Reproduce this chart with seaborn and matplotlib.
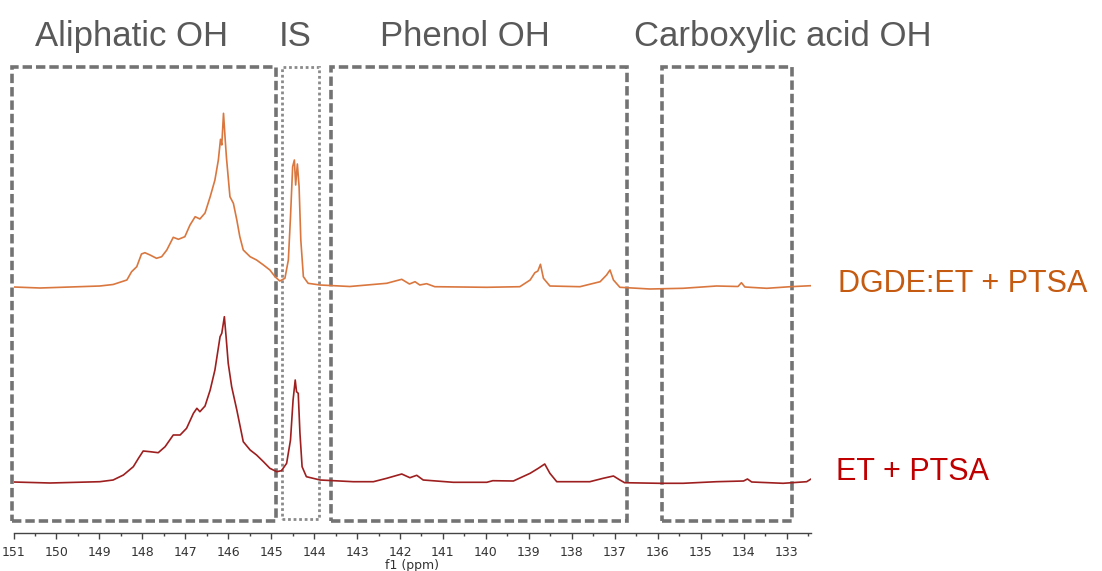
import matplotlib
matplotlib.use("Agg")
import matplotlib.pyplot as plt
from matplotlib.patches import Rectangle
from matplotlib.ticker import MultipleLocator
import seaborn as sns
import pandas as pd

# ---- data (chemical shift in ppm, intensity in arbitrary units) ----
ppm_top = [151.00, 150.38, 149.68, 148.99, 148.68, 148.36, 148.25, 148.13, 148.02, 147.94,
           147.82, 147.67, 147.55, 147.43, 147.28, 147.16, 147.01, 146.89, 146.77, 146.66,
           146.54, 146.42, 146.31, 146.23, 146.18, 146.15, 146.11, 146.07, 146.04, 145.96,
           145.88, 145.80, 145.73, 145.65, 145.49, 145.34, 145.18, 145.03, 144.91, 144.80,
           144.68, 144.60, 144.55, 144.50, 144.46, 144.43, 144.39, 144.35, 144.31, 144.25,
           144.14, 143.86, 143.17, 142.31, 141.96, 141.78, 141.65, 141.54, 141.38, 141.19,
           139.98, 139.21, 138.97, 138.86, 138.79, 138.73, 138.66, 138.51, 137.81, 137.34,
           137.19, 137.11, 137.03, 136.88, 136.18, 135.41, 134.63, 134.13, 134.05, 133.97,
           133.46, 132.91, 132.43]
int_top = [0, -1, 0, 1, 2.5, 7, 15.3, 20.3, 33, 34.3,
           32, 28.7, 30.3, 37, 49.7, 47.7, 50.3, 62, 70.3, 68,
           74, 90.3, 107, 127, 147.7, 142, 173.7, 147, 128.7, 90.3,
           83.7, 67, 50.3, 37, 30.3, 27, 22, 17, 10.3, 6,
           8.7, 27, 70.3, 120.3, 127, 102, 123, 100.3, 47, 10.3,
           3.7, 2, 0.5, 3.7, 7.7, 3, 5.3, 2, 3.3, 0.3,
           -0.3, 0.3, 7, 14.3, 16, 22.7, 8.7, 1, 0.3, 5.3,
           12, 17, 7, -0.3, -2, -1.3, 1, 0.5, 4.3, 0,
           -1.3, 0.3, 1.3]

ppm_bot = [151.00, 150.15, 148.99, 148.68, 148.44, 148.21, 148.09, 147.98, 147.82, 147.63,
           147.47, 147.28, 147.12, 146.97, 146.81, 146.73, 146.66, 146.54, 146.42, 146.31,
           146.19, 146.15, 146.09, 146.05, 146.00, 145.92, 145.80, 145.65, 145.49, 145.34,
           145.18, 145.03, 144.87, 144.76, 144.64, 144.55, 144.49, 144.44, 144.41, 144.37,
           144.33, 144.28, 144.18, 143.86, 143.09, 142.62, 142.31, 141.96, 141.77, 141.61,
           141.46, 140.76, 139.98, 139.84, 139.36, 138.97, 138.78, 138.63, 138.51, 138.35,
           137.58, 137.27, 137.03, 136.88, 136.77, 135.96, 135.41, 134.63, 134.00, 133.91,
           133.81, 133.08, 132.53, 132.43]
int_bot = [1, 0, 1.3, 3, 8, 16.3, 24.7, 32, 31.3, 30.3,
           36.3, 48, 48, 54.7, 69.7, 74.7, 71.3, 77, 93, 113,
           146.3, 149.7, 166.3, 146.3, 119.7, 96.3, 73, 41.3, 33, 28,
           21.3, 14.7, 11.3, 12.3, 19.7, 43, 83, 103, 91.3, 89.7,
           49.7, 16.3, 6.3, 3, 1.3, 1.3, 4.7, 9, 5.3, 7.7,
           3, 0.7, 0.7, 2.3, 2, 9.7, 14.7, 19, 9.7, 1.3,
           1.3, 4.7, 7, 3, 0.3, -0.3, -0.3, 1.3, 2, 4,
           1, -0.3, 1.3, 4]

sample_names = ["DGDE:ET + PTSA", "ET + PTSA"]
offsets = [246, 50]

# region boxes (ppm limits)
regions = ["Aliphatic OH", "IS", "Phenol OH", "Carboxylic acid OH"]
region_lo = [144.89, 143.88, 136.71, 132.87]
region_hi = [151.03, 144.75, 143.61, 135.90]
region_style = ["dash", "dot", "dash", "dash"]

xticks = list(range(133, 152))

# ---- styling ----
sns.set_theme(style="white")
plt.rcParams["font.family"] = ["DejaVu Sans"]

W, H = 1102, 571
fig = plt.figure(figsize=(W / 100, H / 100), dpi=100)
ax = fig.add_axes([13.5 / W, 1 - 533 / H, (811 - 13.5) / W, (533 - 60) / H])

line_colors = ["#D9773F", "#9E1F1F"]
label_colors = ["#C55A11", "#C00000"]

df_top = pd.DataFrame({"ppm": ppm_top, "y": [v + offsets[0] for v in int_top]})
df_bot = pd.DataFrame({"ppm": ppm_bot, "y": [v + offsets[1] for v in int_bot]})
sns.lineplot(data=df_top, x="ppm", y="y", color=line_colors[0], lw=1.2, ax=ax)
sns.lineplot(data=df_bot, x="ppm", y="y", color=line_colors[1], lw=1.2, ax=ax)

ax.set_xlim(151.0, 132.43)
ax.set_ylim(0, 473)
for s in ["top", "left", "right"]:
    ax.spines[s].set_visible(False)
ax.spines["bottom"].set_color("#444444")
ax.spines["bottom"].set_linewidth(1.0)
ax.set_yticks([])
ax.set_ylabel("")
ax.set_xticks(xticks)
ax.set_xticklabels([str(t) for t in xticks])
ax.xaxis.set_minor_locator(MultipleLocator(0.5))
ax.tick_params(axis="x", which="major", direction="out", length=4, width=1,
               color="#444444", labelsize=9, labelcolor="#333333", pad=5, bottom=True)
ax.tick_params(axis="x", which="minor", direction="out", length=2, width=1,
               color="#444444", bottom=True)
ax.set_xlabel("f1 (ppm)", fontsize=9, color="#333333", labelpad=0)

# boxes
box_color = "#737373"
for lo, hi, st in zip(region_lo, region_hi, region_style):
    if st == "dot":
        rect = Rectangle((hi, 14), lo - hi, 452, fill=False, edgecolor="#8a8a8a",
                         lw=2.0, linestyle=(0, (1, 1)), clip_on=False)
    else:
        rect = Rectangle((hi, 12), lo - hi, 454, fill=False, edgecolor=box_color,
                         lw=2.6, linestyle=(0, (2.6, 1.1)), clip_on=False)
    ax.add_patch(rect)

# header labels
hdr_font = ["Liberation Sans", "DejaVu Sans"]
hdr_x = [132, 295, 465, 783]
for name, xc in zip(regions, hdr_x):
    fig.text(xc / W, 1 - 46 / H, name, ha="center", va="baseline", fontsize=25,
             color="#595959", family=hdr_font)

# sample labels
fig.text(838 / W, 1 - 292 / H, sample_names[0], ha="left", va="baseline",
         fontsize=22, color=label_colors[0], family=hdr_font)
fig.text(836 / W, 1 - 480 / H, sample_names[1], ha="left", va="baseline",
         fontsize=22, color=label_colors[1], family=hdr_font)

fig.savefig("out.png", dpi=100)
